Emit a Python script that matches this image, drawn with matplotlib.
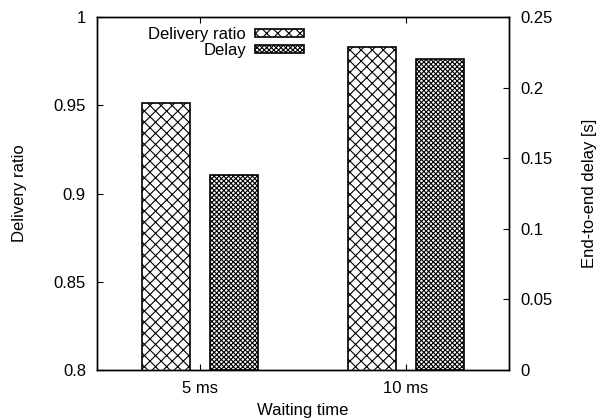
import numpy as np
import matplotlib.pyplot as plt

plt.rcParams['font.family'] = ['Liberation Sans', 'DejaVu Sans']
plt.rcParams['hatch.linewidth'] = 0.8

# values per waiting time
waiting = ['5 ms', '10 ms']
delivery_ratio = [0.951, 0.983]
delay = [0.138, 0.220]

x = np.arange(len(waiting))
w = 0.233
off = 0.167
fs = 12

fig = plt.figure(figsize=(5.96, 4.19), dpi=100)
ax = fig.add_axes([97 / 596, 49 / 419, 412 / 596, 353 / 419])
ax2 = ax.twinx()

b1 = ax.bar(x - off, delivery_ratio, w, color='white', edgecolor='black',
            hatch='xxx', linewidth=1.2, label='Delivery ratio')
b2 = ax2.bar(x + off, delay, w, color='white', edgecolor='black',
             hatch='xxxxxxx', linewidth=1.2, label='Delay')

ax.set_xlim(-0.5, 1.5)
ax.set_ylim(0.8, 1.0)
ax2.set_ylim(0, 0.25)
ax.set_xticks(x)
ax.set_xticklabels(waiting)
ax.set_yticks([0.8, 0.85, 0.9, 0.95, 1.0])
ax.set_yticklabels(['0.8', '0.85', '0.9', '0.95', '1'])
ax2.set_yticks([0, 0.05, 0.1, 0.15, 0.2, 0.25])
ax2.set_yticklabels(['0', '0.05', '0.1', '0.15', '0.2', '0.25'])

ax.tick_params(axis='x', direction='in', top=True, length=4, width=0.8, labelsize=fs, pad=8)
ax.tick_params(axis='y', direction='in', length=4, width=0.8, labelsize=fs, pad=8)
ax2.tick_params(axis='y', direction='in', length=4, width=0.8, labelsize=fs, pad=8)

for a in (ax, ax2):
    for s in a.spines.values():
        s.set_linewidth(1.0)

ax.set_xlabel('Waiting time', fontsize=fs, labelpad=5)
ax.set_ylabel('Delivery ratio', fontsize=fs, labelpad=19)
ax2.set_ylabel('End-to-end delay [s]', fontsize=fs, labelpad=21)

ax2.legend([b1, b2], ['Delivery ratio', 'Delay'], loc='upper right',
           bbox_to_anchor=(0.534, 1.01), frameon=False, markerfirst=False,
           handlelength=2.9, handleheight=0.35, fontsize=fs,
           labelspacing=0.05, handletextpad=0.55, borderpad=0.3)

fig.savefig('out.png', dpi=100)
